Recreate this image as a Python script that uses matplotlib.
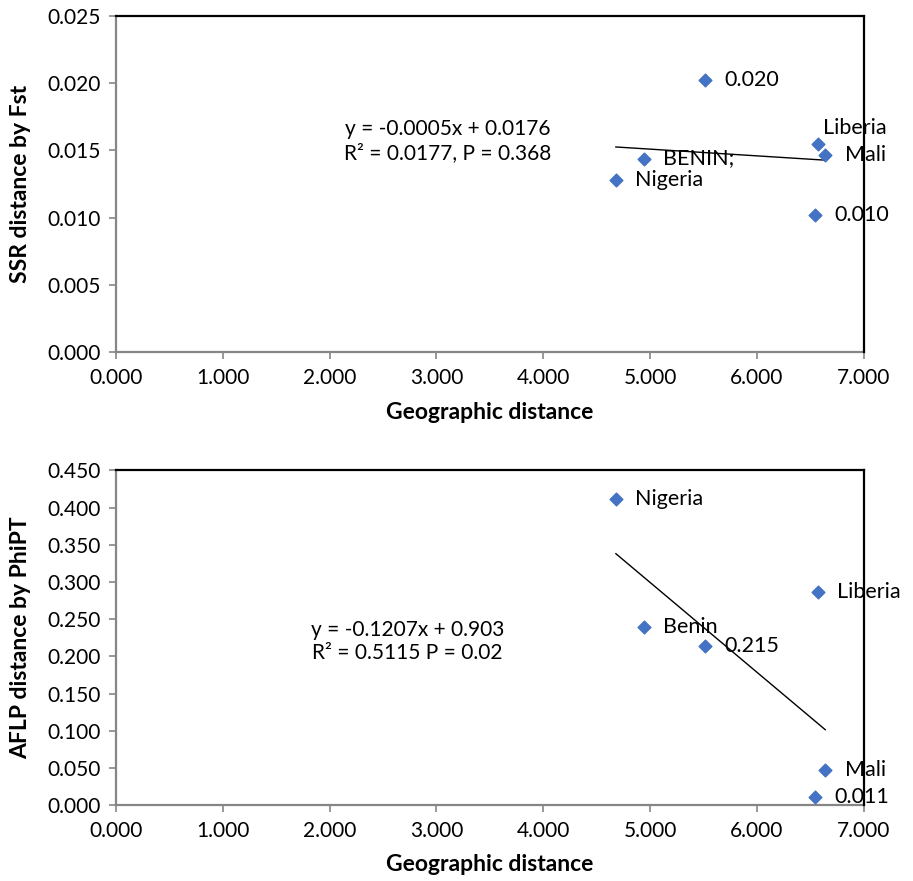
import numpy as np
import matplotlib.pyplot as plt
from matplotlib.ticker import FormatStrFormatter, MultipleLocator

plt.rcParams['font.family'] = ['Lato', 'DejaVu Sans']

# ---- data ----
geo = [4.68, 4.94, 5.51, 6.54, 6.57, 6.64]

ssr_fst = [0.0128, 0.0144, 0.0202, 0.0102, 0.0155, 0.0147]
ssr_labels = ["Nigeria", "BENIN;", "0.020", "0.010", "Liberia", "Mali"]
ssr_fit = (-0.0005, 0.0176)
ssr_eq = "y = -0.0005x + 0.0176\nR² = 0.0177, P = 0.368"

aflp_phipt = [0.411, 0.240, 0.214, 0.011, 0.286, 0.047]
aflp_labels = ["Nigeria", "Benin", "0.215", "0.011", "Liberia", "Mali"]
aflp_fit = (-0.1207, 0.903)
aflp_eq = "y = -0.1207x + 0.903\nR² = 0.5115 P = 0.02"

# label offsets in points (dx, dy)
ssr_offs = [(14, 0), (14, 0), (14, 0), (14, 0), (4, 11), (14, 0)]
aflp_offs = [(14, 0), (14, 0), (14, 0), (14, 0), (14, 0), (14, 0)]

BLUE = "#4472C4"
GRAY = "#868686"

fig = plt.figure(figsize=(9.13, 8.81), dpi=100)
ax1 = fig.add_axes([0.127, 0.600, 0.819, 0.382])
ax2 = fig.add_axes([0.127, 0.086, 0.819, 0.380])


def style(ax, ymax, ystep, ylabel, eq, eq_xy, fit, y, labels, offs):
    ax.scatter(geo, y, marker="D", s=42, color=BLUE, zorder=3, clip_on=False)
    xf = np.array([min(geo), max(geo)])
    ax.plot(xf, fit[0] * xf + fit[1], color="black", lw=1, zorder=2)
    for xi, yi, lab, (dx, dy) in zip(geo, y, labels, offs):
        ax.annotate(lab, (xi, yi), xytext=(dx, dy), textcoords="offset points",
                    va="center", ha="left", fontsize=15.5, zorder=3,
                    annotation_clip=False)
    ax.text(eq_xy[0], eq_xy[1], eq, transform=ax.transAxes, ha="center",
            va="center", fontsize=15, linespacing=1.2)
    ax.set_xlim(0, 7)
    ax.set_ylim(0, ymax)
    ax.xaxis.set_major_locator(MultipleLocator(1))
    ax.yaxis.set_major_locator(MultipleLocator(ystep))
    ax.xaxis.set_major_formatter(FormatStrFormatter("%.3f"))
    ax.yaxis.set_major_formatter(FormatStrFormatter("%.3f"))
    ax.tick_params(direction="out", length=5, width=1.2, color=GRAY,
                   labelsize=15, pad=6)
    for s in ("left", "bottom"):
        ax.spines[s].set_color(GRAY)
        ax.spines[s].set_linewidth(1.6)
    for s in ("top", "right"):
        ax.spines[s].set_color("black")
        ax.spines[s].set_linewidth(1.6)
        ax.spines[s].set_zorder(5)
    ax.set_xlabel("Geographic distance", fontsize=16.5, fontweight="bold", labelpad=10)
    ax.set_ylabel(ylabel, fontsize=16.5, fontweight="bold", labelpad=12)


style(ax1, 0.025, 0.005, "SSR distance by Fst", ssr_eq, (0.444, 0.628),
      ssr_fit, ssr_fst, ssr_labels, ssr_offs)
style(ax2, 0.450, 0.050, "AFLP distance by PhiPT", aflp_eq, (0.39, 0.488),
      aflp_fit, aflp_phipt, aflp_labels, aflp_offs)

fig.savefig("out.png", dpi=100)
